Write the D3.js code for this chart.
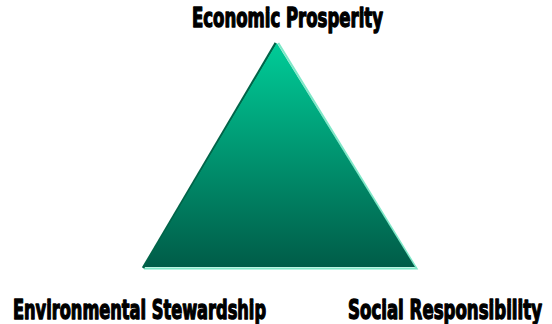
<!DOCTYPE html>
<html>
<head>
<meta charset="utf-8">
<script src="https://cdn.jsdelivr.net/npm/d3@7"></script>
<style>
  html, body { margin: 0; padding: 0; background: #fff; }
  svg { display: block; }
</style>
</head>
<body>
<script>
const labels = ["Economic Prosperity", "Social Responsibility", "Environmental Stewardship"];
const cornerX = [0.49, 1, 0];
const cornerY = [1, 0, 0];

const width = 552,
      height = 324;

const xScale = d3.scaleLinear().domain([0, 1]).range([144, 415]),
      yScale = d3.scaleLinear().domain([0, 1]).range([267, 43]);

const pts = labels.map((d, i) => [xScale(cornerX[i]), yScale(cornerY[i])]);

const svg = d3.select("body")
              .append("svg")
              .attr("width", width)
              .attr("height", height);

const defs = svg.append("defs");
const grad = defs.append("linearGradient")
                 .attr("id", "fill")
                 .attr("x1", 0).attr("y1", 0)
                 .attr("x2", 0).attr("y2", 1);
grad.append("stop").attr("offset", "0%").attr("stop-color", "#00cc98");
grad.append("stop").attr("offset", "100%").attr("stop-color", "#005c48");

const line = d3.line();

// light rim on right and bottom
svg.append("path")
   .attr("d", line([[pts[0][0] + 1.5, pts[0][1]], [pts[1][0] + 1.5, pts[1][1] + 1.5], [pts[2][0], pts[2][1] + 1.5]]))
   .attr("fill", "none")
   .attr("stroke", "#7fe8c8")
   .attr("stroke-width", 2);

// dark rim on left
svg.append("path")
   .attr("d", line([[pts[2][0] - 1, pts[2][1] + 1], [pts[0][0] - 1, pts[0][1]]]))
   .attr("fill", "none")
   .attr("stroke", "#006448")
   .attr("stroke-width", 2.5);

svg.append("path")
   .attr("d", line(pts) + "Z")
   .attr("fill", "url(#fill)");

// labels
const labelX = [287.5, 445, 139.5],
      labelY = [27, 319, 319],
      labelW = [191, 194, 253];

svg.selectAll("text.corner")
   .data(labels)
   .enter()
   .append("text")
   .attr("class", "corner")
   .attr("x", (d, i) => labelX[i])
   .attr("y", (d, i) => labelY[i])
   .attr("text-anchor", "middle")
   .attr("textLength", (d, i) => labelW[i])
   .attr("lengthAdjust", "spacingAndGlyphs")
   .style("font-family", "'DejaVu Sans Condensed', 'DejaVu Sans', sans-serif")
   .style("font-weight", "bold")
   .style("font-size", "26px")
   .style("fill", "#000")
   .style("stroke", "#000")
   .style("stroke-width", 1.3)
   .style("stroke-linejoin", "round")
   .text(d => d);
</script>
</body>
</html>
